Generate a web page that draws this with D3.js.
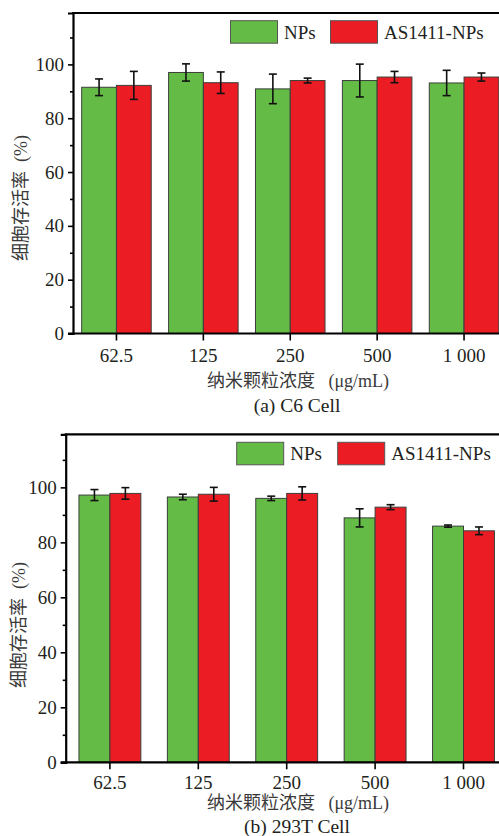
<!DOCTYPE html>
<html><head><meta charset="utf-8">
<script src="https://cdn.jsdelivr.net/npm/d3@7/dist/d3.min.js"></script>
<style>
html,body{margin:0;padding:0;background:#fff;}
svg{display:block;}
text{fill:#231f20;}
</style></head>
<body>
<svg id="chart" width="499" height="836"></svg>
<script>
const categories = ["62.5", "125", "250", "500", "1 000"];
const seriesNames = ["NPs", "AS1411-NPs"];
// Panel (a) C6 Cell
const c6NPs = [91.5, 97.0, 90.9, 94.0, 93.1];
const c6NPsErr = [3.1, 3.2, 5.5, 6.1, 4.7];
const c6AS = [92.2, 93.2, 94.0, 95.3, 95.3];
const c6ASErr = [5.2, 4.0, 0.9, 2.1, 1.5];
// Panel (b) 293T Cell
const t293NPs = [97.2, 96.5, 96.0, 88.9, 85.9];
const t293NPsErr = [2.0, 1.0, 0.8, 3.3, 0.4];
const t293AS = [97.8, 97.5, 97.8, 92.8, 84.2];
const t293ASErr = [2.1, 2.5, 2.4, 0.9, 1.4];
const yTicks = [0, 20, 40, 60, 80, 100];
const yMinorTicks = [10, 30, 50, 70, 90, 110];
const colors = ["#64bc47", "#ec1c24"];

const latin = "'Liberation Serif', 'Times New Roman', serif";
const cjk = "'Liberation Serif', 'Noto Sans CJK SC', serif";
const svg = d3.select("#chart");

function panel(cfg) {
  const g = svg.append("g");
  const x = d3.scaleBand().domain(categories)
    .range([cfg.left, cfg.left + cfg.step * categories.length])
    .paddingInner(cfg.pad).paddingOuter(cfg.pad / 2);
  const xs = d3.scaleBand().domain(seriesNames).range([0, x.bandwidth()]);
  const y = d3.scaleLinear().domain([0, cfg.yMax]).range([cfg.bottom, cfg.top]);

  const data = categories.map((c, i) => ({
    cat: c,
    vals: [
      {s: seriesNames[0], v: cfg.a[i], e: cfg.ae[i], c: colors[0]},
      {s: seriesNames[1], v: cfg.b[i], e: cfg.be[i], c: colors[1]}
    ]
  }));

  const grp = g.selectAll("g.grp").data(data).join("g")
    .attr("transform", d => `translate(${x(d.cat)},0)`);
  grp.selectAll("rect").data(d => d.vals).join("rect")
    .attr("x", d => xs(d.s)).attr("width", xs.bandwidth())
    .attr("y", d => y(d.v)).attr("height", d => y(0) - y(d.v))
    .attr("fill", d => d.c).attr("stroke", "#3a3f3a").attr("stroke-width", 1);
  const eb = grp.selectAll("g.eb").data(d => d.vals).join("g")
    .attr("stroke", "#111").attr("stroke-width", 1.6);
  const cx = d => xs(d.s) + xs.bandwidth() / 2;
  eb.append("line").attr("x1", cx).attr("x2", cx)
    .attr("y1", d => y(d.v + d.e)).attr("y2", d => y(d.v - d.e));
  eb.append("line").attr("x1", d => cx(d) - 4).attr("x2", d => cx(d) + 4)
    .attr("y1", d => y(d.v + d.e)).attr("y2", d => y(d.v + d.e));
  eb.append("line").attr("x1", d => cx(d) - 4).attr("x2", d => cx(d) + 4)
    .attr("y1", d => y(d.v - d.e)).attr("y2", d => y(d.v - d.e));

  g.append("line").attr("x1", cfg.left - 1).attr("x2", 520)
    .attr("y1", y(cfg.yMax)).attr("y2", y(cfg.yMax))
    .attr("stroke", "#000").attr("stroke-width", 2.2);

  const ya = g.append("g").attr("transform", `translate(${cfg.left},0)`)
    .call(d3.axisLeft(y).tickValues(yTicks).tickSize(5).tickPadding(4).tickFormat(d3.format("d")));
  ya.select(".domain").attr("stroke", "#000").attr("stroke-width", 2.2);
  ya.selectAll(".tick line").attr("stroke", "#000").attr("stroke-width", 1.6);
  ya.selectAll(".tick text").style("font-family", latin).style("font-size", "19px").style("fill", "#231f20");
  const ym = g.append("g").attr("transform", `translate(${cfg.left},0)`)
    .call(d3.axisLeft(y).tickValues(yMinorTicks).tickSize(3).tickFormat(""));
  ym.select(".domain").remove();
  ym.selectAll(".tick line").attr("stroke", "#000").attr("stroke-width", 1.6);

  const xa = g.append("g").attr("transform", `translate(0,${cfg.bottom})`)
    .call(d3.axisBottom(x).tickSize(7).tickPadding(cfg.xPad).tickSizeOuter(0));
  xa.select(".domain").attr("stroke", "#000").attr("stroke-width", 2.2)
    .attr("d", `M${cfg.left - 5},0H${520}`);
  xa.selectAll(".tick line").attr("stroke", "#000").attr("stroke-width", 1.6);
  xa.selectAll(".tick text").style("font-family", latin).style("font-size", "19px").style("fill", "#231f20");

  const lg = g.append("g");
  seriesNames.forEach((s, i) => {
    lg.append("rect").attr("x", cfg.leg[i]).attr("y", cfg.legY)
      .attr("width", 47).attr("height", 22.5)
      .attr("fill", colors[i]).attr("stroke", "#555").attr("stroke-width", 1);
    lg.append("text").attr("x", cfg.leg[i] + 53.5).attr("y", cfg.legY + 18)
      .style("font-family", latin).style("font-size", "19px").text(s);
  });

  g.append("text")
    .attr("transform", `translate(${cfg.yTitleX},${cfg.yTitleY}) rotate(-90)`)
    .attr("text-anchor", "middle").style("font-family", cjk).style("font-size", "18px")
    .style("fill", "#3a3a3a")
    .text("细胞存活率\u00a0\u00a0(%)");
  g.append("text").attr("x", 298).attr("y", cfg.xTitleY)
    .attr("text-anchor", "middle").style("font-family", cjk).style("font-size", "18px")
    .style("fill", "#3a3a3a")
    .text("纳米颗粒浓度\u00a0\u00a0\u00a0(μg/mL)");
  g.append("text").attr("x", 297).attr("y", cfg.subY)
    .attr("text-anchor", "middle").style("font-family", latin).style("font-size", "19.5px")
    .text(cfg.sub);
}

panel({left: 73, step: 86.9, pad: 0.2, top: 13, bottom: 333.5, yMax: 119.1,
  a: c6NPs, ae: c6NPsErr, b: c6AS, be: c6ASErr, xPad: 8,
  leg: [230.5, 330.5], legY: 20.7, yTitleX: 27, yTitleY: 198,
  xTitleY: 387, subY: 412, sub: "(a) C6 Cell"});
panel({left: 65.7, step: 88.4, pad: 0.3, top: 434.3, bottom: 762.3, yMax: 119.3,
  a: t293NPs, ae: t293NPsErr, b: t293AS, be: t293ASErr, xPad: 6,
  leg: [236.7, 337.7], legY: 442.3, yTitleX: 25, yTitleY: 625,
  xTitleY: 809, subY: 833, sub: "(b) 293T Cell"});
</script>
</body></html>
